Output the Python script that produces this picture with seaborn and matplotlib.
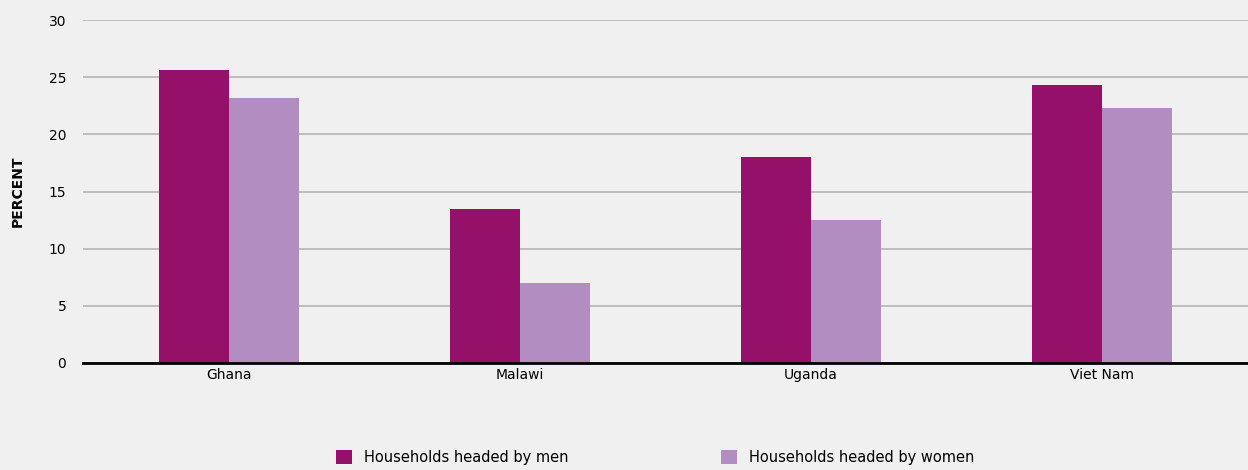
import pandas as pd
import matplotlib.pyplot as plt
import seaborn as sns

countries = ['Ghana', 'Malawi', 'Uganda', 'Viet Nam']
men = [25.6, 13.5, 18.0, 24.3]
women = [23.2, 7.0, 12.5, 22.3]
series = ['Households headed by men', 'Households headed by women']
colors = ['#951068', '#b28dc1']

data = pd.DataFrame({
    'country': countries * 2,
    'value': men + women,
    'group': [series[0]] * 4 + [series[1]] * 4,
})

sns.set_theme(style='whitegrid')
plt.rcParams['font.family'] = ['DejaVu Sans']
plt.rcParams['text.color'] = 'black'

fig = plt.figure(figsize=(12.48, 4.70), dpi=100, facecolor='#f0f0f0')
ax = fig.add_axes([0.0665, 0.2277, 0.9335, 0.7293])
ax.set_facecolor('#f0f0f0')

sns.barplot(data=data, x='country', y='value', hue='group', palette=colors,
            width=0.48, gap=0, saturation=1, linewidth=0, ax=ax)

ax.set_ylim(0, 30)
ax.set_xlim(-0.5, 3.5)
ax.set_yticks(range(0, 31, 5))
ax.grid(axis='y', color='#b4b4b4', linewidth=1.2)
ax.grid(axis='x', visible=False)
for s in ['top', 'right', 'left']:
    ax.spines[s].set_visible(False)
ax.spines['bottom'].set_color('black')
ax.spines['bottom'].set_linewidth(2)
ax.tick_params(axis='both', length=0, labelsize=10, colors='black')
ax.tick_params(axis='y', pad=12)
ax.set_xlabel('')
ax.set_ylabel('')
fig.text(18 / 1248, 1 - 191 / 470, 'PERCENT', rotation=90, fontsize=10,
         fontweight='bold', ha='center', va='center', color='black')

handles, labels = ax.get_legend_handles_labels()
ax.get_legend().remove()
fig.legend(handles, labels, loc='center', bbox_to_anchor=(0.525, 0.026), ncol=2,
           frameon=False, fontsize=10.5, handlelength=1.1, handleheight=1.1,
           columnspacing=10.5, handletextpad=0.8, labelcolor='black')

fig.savefig('out.png', dpi=100, facecolor=fig.get_facecolor())
